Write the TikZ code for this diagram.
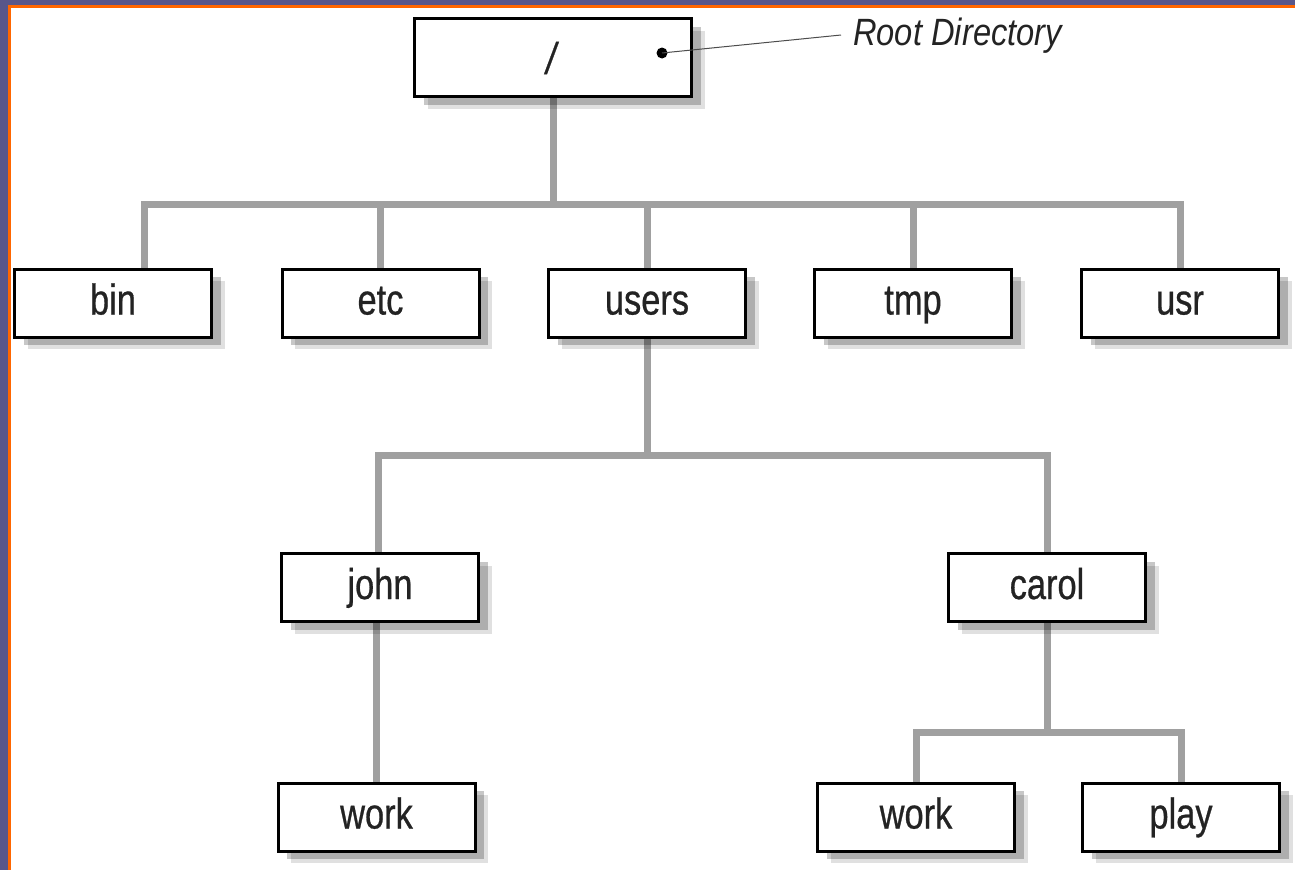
\documentclass[tikz,border=0pt]{standalone}
\usepackage{fontspec}
\setmainfont[FakeStretch=0.8,FakeBold=0.6]{Liberation Sans}
\newfontfamily\notefont[FakeStretch=0.86]{Liberation Sans}
\usetikzlibrary{shadows,backgrounds}
\definecolor{framepurple}{RGB}{88,86,138}
\definecolor{frameorange}{RGB}{255,102,0}
\definecolor{conngray}{RGB}{160,160,160}
\definecolor{textdark}{RGB}{35,35,35}
\tikzset{
  box/.style={draw=black, line width=3pt, fill=white, inner sep=0pt,
    minimum width=197pt, minimum height=68pt, text=textdark,
    text height=32pt, text depth=9pt,
    font=\fontsize{43}{43}\selectfont,
    drop shadow={shadow xshift=13pt, shadow yshift=-12pt, opacity=0.12, fill=black},
    drop shadow={shadow xshift=9pt, shadow yshift=-8pt, opacity=0.22, fill=black}},
  conn/.style={draw=conngray, line width=7pt, line join=miter},
  note/.style={font=\notefont\itshape\fontsize{38}{38}\selectfont, text=textdark, inner sep=0pt}
}
\begin{document}
\begin{tikzpicture}[x=1pt, y=-1pt]
\useasboundingbox (0,0) rectangle (1295,870);

% nodes
\node[box, minimum width=277pt, minimum height=78pt] (root) at (553,57.5) {};
\node[text=textdark, font=\fontsize{44}{44}\selectfont\itshape, inner sep=0pt] (slash) at (551,58) {/};
\coordinate (dot) at (662,53);
\fill[black] (dot) circle (5.5pt);
\node[note, anchor=west] (rootlabel) at (853,36) {Root Directory};

\node[box] (bin) at (113,303) {bin};
\node[box] (etc) at (380.5,303) {etc};
\node[box] (users) at (647,303) {users};
\node[box] (tmp) at (913,303) {tmp};
\node[box] (usr) at (1180,303) {usr};

\node[box] (john) at (380,587.5) {john};
\node[box] (carol) at (1047,587.5) {carol};

\node[box] (workj) at (376.5,817) {work};
\node[box] (workc) at (916,817) {work};
\node[box] (play) at (1181,817) {play};

\coordinate (busA) at (0,204);
\coordinate (busB) at (0,455);
\coordinate (busC) at (0,732);

\draw[line width=1pt, draw=black!70] (dot) -- ([xshift=-12pt,yshift=1pt]rootlabel.west);

\begin{scope}[on background layer]
  % frame
  \fill[white] (0,0) rectangle (1295,870);
  \fill[framepurple] (0,0) rectangle (1295,5);
  \fill[framepurple] (0,0) rectangle (8,870);
  \fill[frameorange] (8,5) rectangle (1295,7.5);
  \fill[frameorange] (8,5) rectangle (10.5,870);

  \draw[conn] (root.south) -- (root.south |- busA);
  \draw[conn] ([xshift=31pt]bin.north) |- (usr.north |- busA) -- (usr.north);
  \draw[conn] (etc.north) -- (etc.north |- busA);
  \draw[conn] (users.north) -- (users.north |- busA);
  \draw[conn] (tmp.north) -- (tmp.north |- busA);

  \draw[conn] (users.south) -- (users.south |- busB);
  \draw[conn] ([xshift=-2pt]john.north) |- (carol.north |- busB) -- (carol.north);

  \draw[conn] (workj.north |- john.south) -- (workj.north);

  \draw[conn] (carol.south) -- (carol.south |- busC);
  \draw[conn] (workc.north) |- (play.north |- busC) -- (play.north);
\end{scope}
\end{tikzpicture}
\end{document}
